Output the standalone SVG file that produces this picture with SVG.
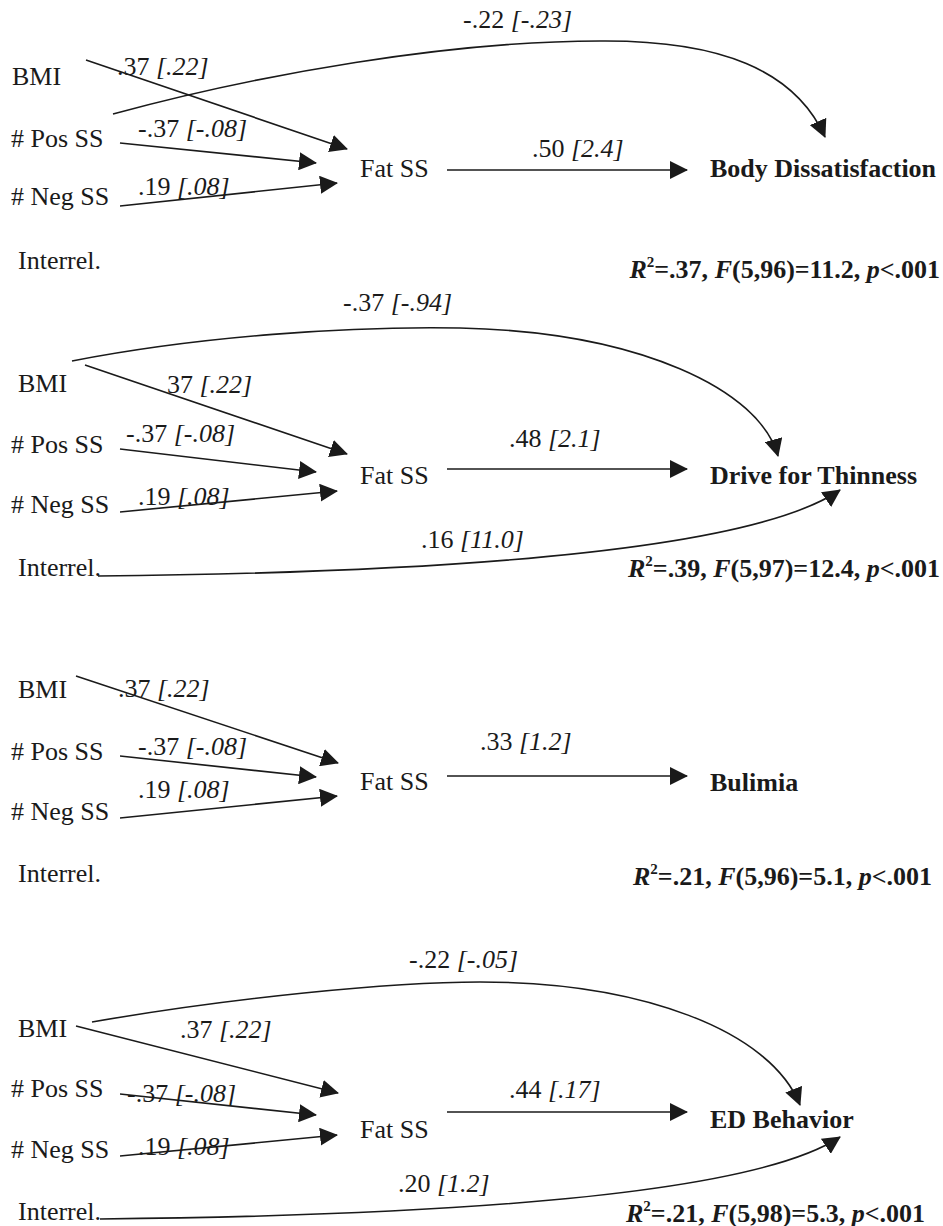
<svg xmlns="http://www.w3.org/2000/svg" width="943" height="1226" viewBox="0 0 943 1226">
<style>
text{font-family:"Liberation Serif","Times New Roman",serif;font-size:26px;fill:#1a1a1a}
.b{font-weight:bold}
.i{font-style:italic}
.sup{font-size:15px}
.e{fill:none;stroke:#1a1a1a;stroke-width:1.6;marker-end:url(#ah)}
</style>
<defs>
<marker id="ah" markerWidth="18" markerHeight="18" refX="17" refY="9" orient="auto" markerUnits="userSpaceOnUse">
<path d="M0,0 L18,9 L0,18 z" fill="#1a1a1a"/>
</marker>
</defs>
<rect width="943" height="1226" fill="#fff"/>

<!-- Panel 1 -->
<g id="p1-bmi"><text x="12" y="85">BMI</text></g>
<g id="p1-pos"><text x="11" y="147"># Pos SS</text></g>
<g id="p1-neg"><text x="11" y="205"># Neg SS</text></g>
<g id="p1-interrel"><text x="18" y="269">Interrel.</text></g>
<g id="p1-fat"><text x="360" y="177">Fat SS</text></g>
<g id="p1-out"><text class="b" x="710" y="177">Body Dissatisfaction</text></g>
<g id="p1-stats"><text class="b" x="940" y="278" text-anchor="end"><tspan class="i">R</tspan><tspan class="sup" dy="-11">2</tspan><tspan dy="11">=.37, </tspan><tspan class="i">F</tspan>(5,96)=11.2, <tspan class="i">p</tspan>&lt;.001</text></g>

<!-- Panel 2 -->
<g id="p2-bmi"><text x="18" y="392">BMI</text></g>
<g id="p2-pos"><text x="11" y="453"># Pos SS</text></g>
<g id="p2-neg"><text x="11" y="513"># Neg SS</text></g>
<g id="p2-interrel"><text x="18" y="576">Interrel.</text></g>
<g id="p2-fat"><text x="360" y="484">Fat SS</text></g>
<g id="p2-out"><text class="b" x="710" y="484">Drive for Thinness</text></g>
<g id="p2-stats"><text class="b" x="940" y="577" text-anchor="end"><tspan class="i">R</tspan><tspan class="sup" dy="-11">2</tspan><tspan dy="11">=.39, </tspan><tspan class="i">F</tspan>(5,97)=12.4, <tspan class="i">p</tspan>&lt;.001</text></g>

<!-- Panel 3 -->
<g id="p3-bmi"><text x="18" y="698">BMI</text></g>
<g id="p3-pos"><text x="11" y="760"># Pos SS</text></g>
<g id="p3-neg"><text x="11" y="820"># Neg SS</text></g>
<g id="p3-interrel"><text x="18" y="882">Interrel.</text></g>
<g id="p3-fat"><text x="360" y="790">Fat SS</text></g>
<g id="p3-out"><text class="b" x="710" y="791">Bulimia</text></g>
<g id="p3-stats"><text class="b" x="932" y="885" text-anchor="end"><tspan class="i">R</tspan><tspan class="sup" dy="-11">2</tspan><tspan dy="11">=.21, </tspan><tspan class="i">F</tspan>(5,96)=5.1, <tspan class="i">p</tspan>&lt;.001</text></g>

<!-- Panel 4 -->
<g id="p4-bmi"><text x="18" y="1037">BMI</text></g>
<g id="p4-pos"><text x="11" y="1097"># Pos SS</text></g>
<g id="p4-neg"><text x="11" y="1158"># Neg SS</text></g>
<g id="p4-interrel"><text x="18" y="1220">Interrel.</text></g>
<g id="p4-fat"><text x="360" y="1138">Fat SS</text></g>
<g id="p4-out"><text class="b" x="710" y="1128">ED Behavior</text></g>
<g id="p4-stats"><text class="b" x="925" y="1222" text-anchor="end"><tspan class="i">R</tspan><tspan class="sup" dy="-11">2</tspan><tspan dy="11">=.21, </tspan><tspan class="i">F</tspan>(5,98)=5.3, <tspan class="i">p</tspan>&lt;.001</text></g>

<g id="connectors">
<!-- Panel 1 -->
<path class="e" d="M113,114 C260,74 450,41 600,41 C720,40 795,70 825,137"/>
<path class="e" d="M86,60 L347,149"/>
<path class="e" d="M120,143 L316,163"/>
<path class="e" d="M120,206 L337,183"/>
<path class="e" d="M447,170 L687,170"/>
<!-- Panel 2 -->
<path class="e" d="M72,361 C200,336 350,326 460,328 C640,332 760,390 778,456"/>
<path class="e" d="M85,365 L347,454"/>
<path class="e" d="M120,449 L316,472"/>
<path class="e" d="M120,512 L337,491"/>
<path class="e" d="M447,469 L687,469"/>
<path class="e" d="M98,576 C500,572 760,545 840,490"/>
<!-- Panel 3 -->
<path class="e" d="M76,676 L338,763"/>
<path class="e" d="M120,756 L316,777"/>
<path class="e" d="M120,818 L337,796"/>
<path class="e" d="M447,776 L687,776"/>
<!-- Panel 4 -->
<path class="e" d="M92,1022 C230,998 390,982 480,982 C640,982 770,1030 800,1105"/>
<path class="e" d="M76,1026 L338,1093"/>
<path class="e" d="M120,1094 L316,1115"/>
<path class="e" d="M120,1156 L337,1135"/>
<path class="e" d="M447,1112 L687,1112"/>
<path class="e" d="M100,1219 C500,1215 760,1190 840,1137"/>
</g>

<g id="connector-labels">
<!-- Panel 1 -->
<text x="463" y="28">-.22 <tspan class="i">[-.23]</tspan></text>
<text x="117" y="75">.37 <tspan class="i">[.22]</tspan></text>
<text x="138" y="137">-.37 <tspan class="i">[-.08]</tspan></text>
<text x="138" y="195">.19 <tspan class="i">[.08]</tspan></text>
<text x="532" y="157">.50 <tspan class="i">[2.4]</tspan></text>
<!-- Panel 2 -->
<text x="343" y="311">-.37 <tspan class="i">[-.94]</tspan></text>
<text x="167" y="393">37 <tspan class="i">[.22]</tspan></text>
<text x="126" y="442">-.37 <tspan class="i">[-.08]</tspan></text>
<text x="138" y="505">.19 <tspan class="i">[.08]</tspan></text>
<text x="509" y="447">.48 <tspan class="i">[2.1]</tspan></text>
<text x="421" y="548">.16 <tspan class="i">[11.0]</tspan></text>
<!-- Panel 3 -->
<text x="118" y="697">.37 <tspan class="i">[.22]</tspan></text>
<text x="138" y="755">-.37 <tspan class="i">[-.08]</tspan></text>
<text x="138" y="798">.19 <tspan class="i">[.08]</tspan></text>
<text x="480" y="750">.33 <tspan class="i">[1.2]</tspan></text>
<!-- Panel 4 -->
<text x="409" y="968">-.22 <tspan class="i">[-.05]</tspan></text>
<text x="180" y="1038">.37 <tspan class="i">[.22]</tspan></text>
<text x="127" y="1102">-.37 <tspan class="i">[-.08]</tspan></text>
<text x="138" y="1155">.19 <tspan class="i">[.08]</tspan></text>
<text x="509" y="1098">.44 <tspan class="i">[.17]</tspan></text>
<text x="398" y="1192">.20 <tspan class="i">[1.2]</tspan></text>
</g>
</svg>
